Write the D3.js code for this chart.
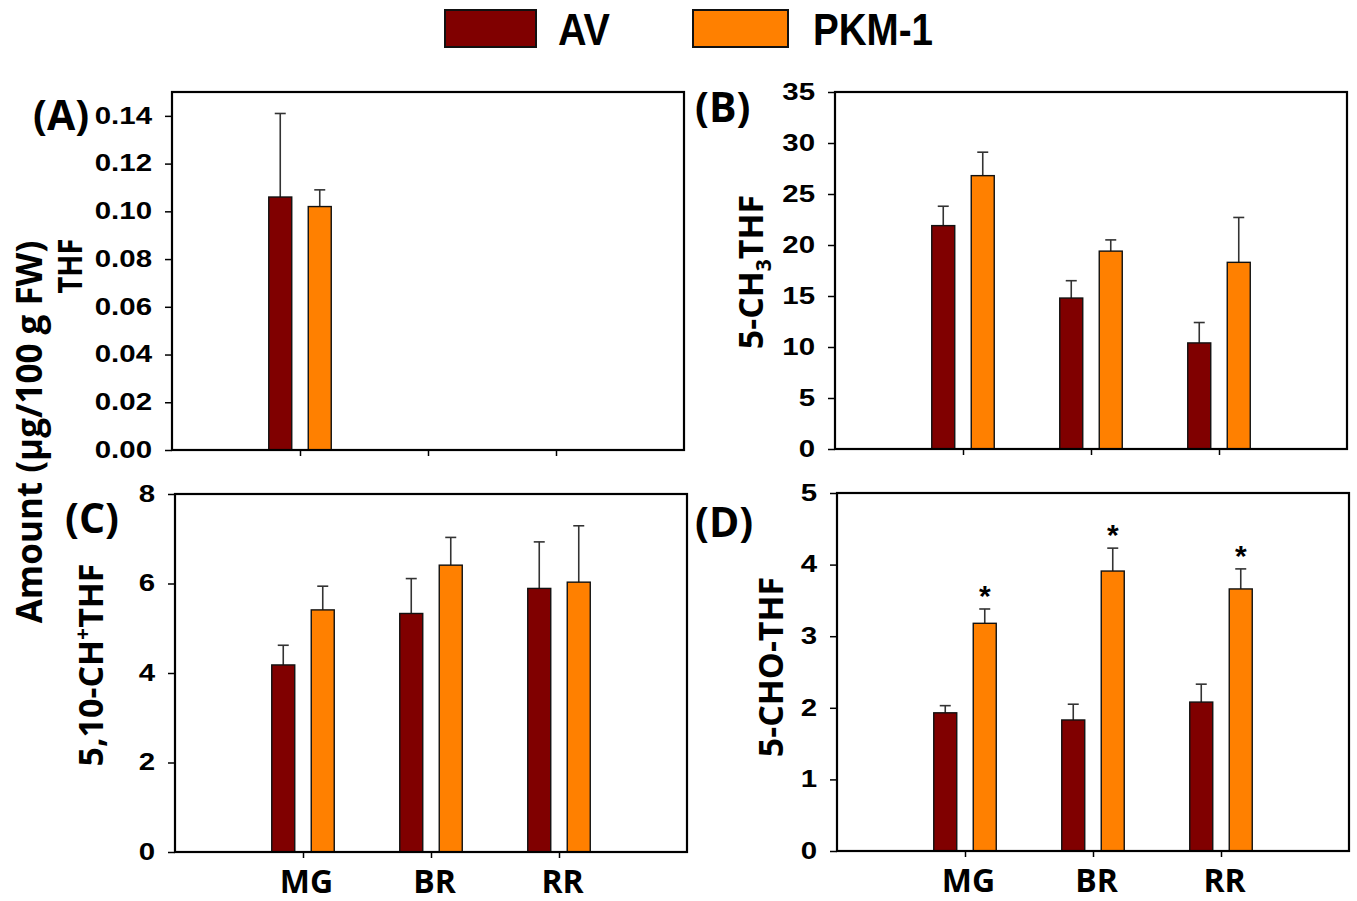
<!DOCTYPE html>
<html>
<head>
<meta charset="utf-8">
<script src="https://cdn.jsdelivr.net/npm/d3@7"></script>
<style>
  body { margin: 0; background: #fff; }
  svg { display: block; }
  .ytick text { font-family: "Liberation Sans", Arial, sans-serif; font-weight: bold; font-size: 23px; fill: #000; }
  .xtick text { font-family: "Open Sans", sans-serif; font-weight: bold; font-size: 32px; fill: #000; }
  .title { font-family: "Open Sans", sans-serif; font-weight: bold; fill: #000; }
</style>
</head>
<body>
<div id="chart"></div>
<script>
// stages and groups
var stages = ["MG", "BR", "RR"];
var series = ["AV", "PKM-1"];
var colors = ["#800000", "#FF8000"];

// (A) THF, only MG measured
var thfAV = [0.106, null, null];
var thfAVsd = [0.035, null, null];
var thfPKM = [0.102, null, null];
var thfPKMsd = [0.007, null, null];
var thfTicks = [0, 0.02, 0.04, 0.06, 0.08, 0.10, 0.12, 0.14];

// (B) 5-CH3THF
var ch3AV = [21.9, 14.8, 10.4];
var ch3AVsd = [1.9, 1.7, 2.0];
var ch3PKM = [26.8, 19.4, 18.3];
var ch3PKMsd = [2.3, 1.1, 4.4];
var ch3Ticks = [0, 5, 10, 15, 20, 25, 30, 35];

// (C) 5,10-CH+THF
var chAV = [4.18, 5.33, 5.89];
var chAVsd = [0.44, 0.78, 1.04];
var chPKM = [5.41, 6.41, 6.03];
var chPKMsd = [0.53, 0.62, 1.26];
var chTicks = [0, 2, 4, 6, 8];

// (D) 5-CHO-THF
var choAV = [1.93, 1.83, 2.08];
var choAVsd = [0.10, 0.22, 0.25];
var choPKM = [3.18, 3.91, 3.66];
var choPKMsd = [0.20, 0.32, 0.28];
var choStars = [true, true, true];
var choTicks = [0, 1, 2, 3, 4, 5];

var svg = d3.select("#chart").append("svg")
    .attr("width", 1357)
    .attr("height", 901);

// stretch text horizontally like the original figure
function stretch(sel, k) {
    sel.each(function() {
        var w = this.getComputedTextLength();
        d3.select(this).attr("textLength", w * k).attr("lengthAdjust", "spacingAndGlyphs");
    });
}

var panels = [
    {label: "(A)", lx: 33, ly: 130, left: 172, top: 92, bottom: 450, ymax: 0.15, ticks: thfTicks, fmt: d3.format(".2f"),
     av: thfAV, avsd: thfAVsd, pk: thfPKM, pksd: thfPKMsd, xlabels: false, tx: 82, ty: 266},
    {label: "(B)", lx: 695, ly: 122, left: 835, top: 92, bottom: 449, ymax: 35, ticks: ch3Ticks, fmt: d3.format("d"),
     av: ch3AV, avsd: ch3AVsd, pk: ch3PKM, pksd: ch3PKMsd, xlabels: false, tx: 763, ty: 272},
    {label: "(C)", lx: 65, ly: 533, left: 175, top: 494, bottom: 852, ymax: 8, ticks: chTicks, fmt: d3.format("d"),
     av: chAV, avsd: chAVsd, pk: chPKM, pksd: chPKMsd, xlabels: true, tx: 103, ty: 665},
    {label: "(D)", lx: 695, ly: 537, left: 837, top: 493, bottom: 851, ymax: 5, ticks: choTicks, fmt: d3.format("d"),
     av: choAV, avsd: choAVsd, pk: choPKM, pksd: choPKMsd, stars: choStars, xlabels: true, tx: 783, ty: 667}
];

var sub = d3.scaleBand().domain(series).range([-39.5, 39.5]);
var barW = 23;

panels.forEach(function(p) {
    var x = d3.scaleLinear().domain([0, 4]).range([p.left, p.left + 512]);
    var y = d3.scaleLinear().domain([0, p.ymax]).range([p.bottom, p.top]);

    var g = svg.append("g");

    // y axis
    var ya = g.append("g")
        .attr("class", "ytick")
        .attr("transform", "translate(" + p.left + ",0)")
        .call(d3.axisLeft(y).tickValues(p.ticks).tickFormat(p.fmt).tickSize(7).tickPadding(13));
    ya.select(".domain").remove();
    ya.selectAll("line").attr("stroke", "#000").attr("stroke-width", 1.5);
    ya.selectAll("text").attr("fill", "#000");
    stretch(ya.selectAll("text"), 1.28);

    // x axis
    var xa = g.append("g")
        .attr("class", "xtick")
        .attr("transform", "translate(0," + p.bottom + ")")
        .call(d3.axisBottom(x).tickValues([1, 2, 3])
            .tickFormat(function(d) { return p.xlabels ? stages[d - 1] : ""; })
            .tickSize(6).tickPadding(12));
    xa.select(".domain").remove();
    xa.selectAll("line").attr("stroke", "#000").attr("stroke-width", 1.5);
    xa.selectAll("text").attr("fill", "#000").attr("dx", 3);

    var groups = [
        {vals: p.av, sd: p.avsd, color: colors[0], name: series[0]},
        {vals: p.pk, sd: p.pksd, color: colors[1], name: series[1]}
    ];

    groups.forEach(function(s) {
        var rows = s.vals.map(function(v, i) { return {i: i, v: v, sd: s.sd[i]}; })
            .filter(function(d) { return d.v !== null; });
        var cx = function(d) { return x(d.i + 1) + sub(s.name) + sub.bandwidth() / 2; };

        // error bars first, bar drawn over the lower end
        g.selectAll(null).data(rows).enter().append("line")
            .attr("x1", cx).attr("x2", cx)
            .attr("y1", function(d) { return y(d.v); })
            .attr("y2", function(d) { return y(d.v + d.sd); })
            .attr("stroke", "#333").attr("stroke-width", 1.6);
        g.selectAll(null).data(rows).enter().append("line")
            .attr("x1", function(d) { return cx(d) - 5.5; })
            .attr("x2", function(d) { return cx(d) + 5.5; })
            .attr("y1", function(d) { return y(d.v + d.sd); })
            .attr("y2", function(d) { return y(d.v + d.sd); })
            .attr("stroke", "#333").attr("stroke-width", 1.6);

        g.selectAll(null).data(rows).enter().append("rect")
            .attr("x", function(d) { return cx(d) - barW / 2; })
            .attr("y", function(d) { return y(d.v); })
            .attr("width", barW)
            .attr("height", function(d) { return y(0) - y(d.v); })
            .attr("fill", s.color)
            .attr("stroke", "#111")
            .attr("stroke-width", 1.4);

        if (p.stars && s.name === series[1]) {
            g.selectAll(null).data(rows.filter(function(d) { return p.stars[d.i]; })).enter().append("text")
                .attr("x", cx)
                .attr("y", function(d) { return y(d.v + d.sd) - 3; })
                .attr("text-anchor", "middle")
                .attr("font-family", "Liberation Sans, Arial, sans-serif")
                .attr("font-weight", "bold")
                .attr("font-size", 30)
                .text("*");
        }
    });

    // frame
    g.append("rect")
        .attr("x", p.left).attr("y", p.top)
        .attr("width", 512).attr("height", p.bottom - p.top)
        .attr("fill", "none").attr("stroke", "#000").attr("stroke-width", 2.2);

    // panel letter
    svg.append("text").attr("class", "title")
        .attr("x", p.lx).attr("y", p.ly)
        .attr("font-size", 41)
        .text(p.label);
});

// y titles
function ytitle(x, y, size) {
    return svg.append("text").attr("class", "title")
        .attr("transform", "translate(" + x + "," + y + ") rotate(-90)")
        .attr("text-anchor", "middle")
        .attr("font-size", size);
}

ytitle(42, 432, 35).text("Amount (\u00b5g/100 g FW)");
ytitle(panels[0].tx, panels[0].ty, 34).text("THF").attr("textLength", 55).attr("lengthAdjust", "spacingAndGlyphs");

var t2 = ytitle(panels[1].tx, panels[1].ty, 34);
t2.append("tspan").text("5-CH");
t2.append("tspan").attr("font-size", 21).attr("dy", 8).text("3");
t2.append("tspan").attr("dy", -8).text("THF");

var t3 = ytitle(panels[2].tx, panels[2].ty, 34);
t3.append("tspan").text("5,10-CH");
t3.append("tspan").attr("font-size", 21).attr("dy", -13).text("+");
t3.append("tspan").attr("dy", 13).text("THF");

ytitle(panels[3].tx, panels[3].ty, 34).text("5-CHO-THF");

// legend
var legend = svg.append("g");
var legX = [445, 693];
var legW = [91, 95];
var legTX = [558, 813];
var legTW = [52, 120];
series.forEach(function(s, i) {
    legend.append("rect")
        .attr("x", legX[i]).attr("y", 10)
        .attr("width", legW[i]).attr("height", 37)
        .attr("fill", colors[i]).attr("stroke", "#111").attr("stroke-width", 2);
    legend.append("text")
        .attr("x", legTX[i]).attr("y", 45)
        .attr("font-family", "Liberation Sans, Arial, sans-serif")
        .attr("font-weight", "bold")
        .attr("font-size", 45)
        .attr("textLength", legTW[i]).attr("lengthAdjust", "spacingAndGlyphs")
        .text(s);
});
</script>
</body>
</html>
